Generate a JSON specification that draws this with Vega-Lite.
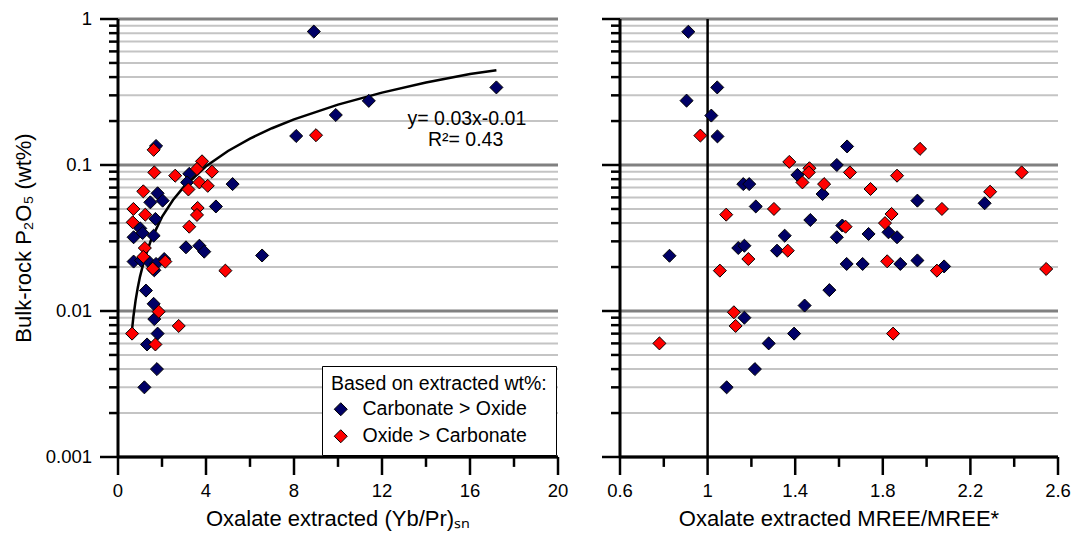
{
  "$schema": "https://vega.github.io/schema/vega-lite/v6.json",
  "background": "white",
  "autosize": {"type": "pad"},
  "padding": {"left": 12, "top": 10, "right": 0, "bottom": 5},
  "config": {
    "font": "Liberation Sans",
    "view": {"stroke": null},
    "axis": {"disable": true}
  },
  "datasets": {
    "ymaj": [{"v": 0.001}, {"v": 0.01}, {"v": 0.1}, {"v": 1}],
    "ymin": [{"v": 0.002}, {"v": 0.003}, {"v": 0.004}, {"v": 0.005}, {"v": 0.006}, {"v": 0.007}, {"v": 0.008}, {"v": 0.009},
             {"v": 0.02}, {"v": 0.03}, {"v": 0.04}, {"v": 0.05}, {"v": 0.06}, {"v": 0.07}, {"v": 0.08}, {"v": 0.09},
             {"v": 0.2}, {"v": 0.3}, {"v": 0.4}, {"v": 0.5}, {"v": 0.6}, {"v": 0.7}, {"v": 0.8}, {"v": 0.9}],
    "xmajL": [{"v": 0}, {"v": 4}, {"v": 8}, {"v": 12}, {"v": 16}, {"v": 20}],
    "xminL": [{"v": 2}, {"v": 6}, {"v": 10}, {"v": 14}, {"v": 18}],
    "xmajR": [{"v": 0.6}, {"v": 1.0}, {"v": 1.4}, {"v": 1.8}, {"v": 2.2}, {"v": 2.6}],
    "xminR": [{"v": 0.8}, {"v": 1.2}, {"v": 1.6}, {"v": 2.0}, {"v": 2.4}],
    "fit": [
      {"x": 0.64, "p": 0.0075}, {"x": 0.7, "p": 0.00913}, {"x": 0.8, "p": 0.01182}, {"x": 0.9, "p": 0.01451},
      {"x": 1.0, "p": 0.0172}, {"x": 1.2, "p": 0.02258}, {"x": 1.5, "p": 0.03065}, {"x": 2.0, "p": 0.0441},
      {"x": 2.5, "p": 0.05755}, {"x": 3, "p": 0.071}, {"x": 4, "p": 0.0979}, {"x": 5, "p": 0.1248},
      {"x": 6, "p": 0.1517}, {"x": 7, "p": 0.1786}, {"x": 8, "p": 0.2055}, {"x": 10, "p": 0.2593},
      {"x": 12, "p": 0.3131}, {"x": 14, "p": 0.3669}, {"x": 16, "p": 0.4207}, {"x": 17.2, "p": 0.445}
    ],
    "left": [
      {"x": 8.9, "p": 0.82, "g": "Carbonate > Oxide"},
      {"x": 17.2, "p": 0.34, "g": "Carbonate > Oxide"},
      {"x": 11.4, "p": 0.275, "g": "Carbonate > Oxide"},
      {"x": 9.9, "p": 0.22, "g": "Carbonate > Oxide"},
      {"x": 8.1, "p": 0.158, "g": "Carbonate > Oxide"},
      {"x": 1.73, "p": 0.135, "g": "Carbonate > Oxide"},
      {"x": 3.24, "p": 0.087, "g": "Carbonate > Oxide"},
      {"x": 3.14, "p": 0.076, "g": "Carbonate > Oxide"},
      {"x": 5.21, "p": 0.074, "g": "Carbonate > Oxide"},
      {"x": 1.8, "p": 0.064, "g": "Carbonate > Oxide"},
      {"x": 1.47, "p": 0.0555, "g": "Carbonate > Oxide"},
      {"x": 2.03, "p": 0.057, "g": "Carbonate > Oxide"},
      {"x": 4.45, "p": 0.052, "g": "Carbonate > Oxide"},
      {"x": 1.7, "p": 0.0427, "g": "Carbonate > Oxide"},
      {"x": 1.01, "p": 0.0368, "g": "Carbonate > Oxide"},
      {"x": 1.12, "p": 0.0342, "g": "Carbonate > Oxide"},
      {"x": 0.71, "p": 0.032, "g": "Carbonate > Oxide"},
      {"x": 1.62, "p": 0.0328, "g": "Carbonate > Oxide"},
      {"x": 3.09, "p": 0.0273, "g": "Carbonate > Oxide"},
      {"x": 3.7, "p": 0.028, "g": "Carbonate > Oxide"},
      {"x": 3.92, "p": 0.0255, "g": "Carbonate > Oxide"},
      {"x": 6.55, "p": 0.024, "g": "Carbonate > Oxide"},
      {"x": 0.71, "p": 0.0218, "g": "Carbonate > Oxide"},
      {"x": 1.05, "p": 0.0222, "g": "Carbonate > Oxide"},
      {"x": 1.42, "p": 0.0216, "g": "Carbonate > Oxide"},
      {"x": 2.1, "p": 0.0227, "g": "Carbonate > Oxide"},
      {"x": 1.73, "p": 0.021, "g": "Carbonate > Oxide"},
      {"x": 1.65, "p": 0.019, "g": "Carbonate > Oxide"},
      {"x": 1.27, "p": 0.0138, "g": "Carbonate > Oxide"},
      {"x": 1.62, "p": 0.0112, "g": "Carbonate > Oxide"},
      {"x": 1.65, "p": 0.0088, "g": "Carbonate > Oxide"},
      {"x": 1.8, "p": 0.007, "g": "Carbonate > Oxide"},
      {"x": 1.32, "p": 0.0059, "g": "Carbonate > Oxide"},
      {"x": 1.77, "p": 0.004, "g": "Carbonate > Oxide"},
      {"x": 1.2, "p": 0.003, "g": "Carbonate > Oxide"},
      {"x": 9.0, "p": 0.16, "g": "Oxide > Carbonate"},
      {"x": 1.62, "p": 0.127, "g": "Oxide > Carbonate"},
      {"x": 1.65, "p": 0.089, "g": "Oxide > Carbonate"},
      {"x": 2.6, "p": 0.0845, "g": "Oxide > Carbonate"},
      {"x": 3.82, "p": 0.106, "g": "Oxide > Carbonate"},
      {"x": 3.59, "p": 0.094, "g": "Oxide > Carbonate"},
      {"x": 3.7, "p": 0.076, "g": "Oxide > Carbonate"},
      {"x": 4.08, "p": 0.072, "g": "Oxide > Carbonate"},
      {"x": 4.27, "p": 0.09, "g": "Oxide > Carbonate"},
      {"x": 3.2, "p": 0.068, "g": "Oxide > Carbonate"},
      {"x": 1.15, "p": 0.066, "g": "Oxide > Carbonate"},
      {"x": 0.7, "p": 0.05, "g": "Oxide > Carbonate"},
      {"x": 1.24, "p": 0.0457, "g": "Oxide > Carbonate"},
      {"x": 3.62, "p": 0.0508, "g": "Oxide > Carbonate"},
      {"x": 3.59, "p": 0.0455, "g": "Oxide > Carbonate"},
      {"x": 0.67, "p": 0.0405, "g": "Oxide > Carbonate"},
      {"x": 3.24, "p": 0.0378, "g": "Oxide > Carbonate"},
      {"x": 1.22, "p": 0.027, "g": "Oxide > Carbonate"},
      {"x": 1.15, "p": 0.0235, "g": "Oxide > Carbonate"},
      {"x": 2.15, "p": 0.0218, "g": "Oxide > Carbonate"},
      {"x": 1.58, "p": 0.0195, "g": "Oxide > Carbonate"},
      {"x": 4.88, "p": 0.0189, "g": "Oxide > Carbonate"},
      {"x": 1.85, "p": 0.0099, "g": "Oxide > Carbonate"},
      {"x": 2.76, "p": 0.0079, "g": "Oxide > Carbonate"},
      {"x": 0.64, "p": 0.007, "g": "Oxide > Carbonate"},
      {"x": 1.7, "p": 0.0059, "g": "Oxide > Carbonate"}
    ],
    "right": [
      {"x": 0.912, "p": 0.818, "g": "Carbonate > Oxide"},
      {"x": 1.044, "p": 0.34, "g": "Carbonate > Oxide"},
      {"x": 0.904, "p": 0.276, "g": "Carbonate > Oxide"},
      {"x": 1.017, "p": 0.218, "g": "Carbonate > Oxide"},
      {"x": 1.045, "p": 0.157, "g": "Carbonate > Oxide"},
      {"x": 1.59, "p": 0.1, "g": "Carbonate > Oxide"},
      {"x": 1.41, "p": 0.0855, "g": "Carbonate > Oxide"},
      {"x": 1.525, "p": 0.0633, "g": "Carbonate > Oxide"},
      {"x": 1.163, "p": 0.074, "g": "Carbonate > Oxide"},
      {"x": 1.19, "p": 0.074, "g": "Carbonate > Oxide"},
      {"x": 1.22, "p": 0.052, "g": "Carbonate > Oxide"},
      {"x": 1.469, "p": 0.042, "g": "Carbonate > Oxide"},
      {"x": 1.352, "p": 0.0328, "g": "Carbonate > Oxide"},
      {"x": 1.59, "p": 0.032, "g": "Carbonate > Oxide"},
      {"x": 1.14, "p": 0.027, "g": "Carbonate > Oxide"},
      {"x": 1.168, "p": 0.028, "g": "Carbonate > Oxide"},
      {"x": 1.317, "p": 0.0259, "g": "Carbonate > Oxide"},
      {"x": 0.826, "p": 0.0239, "g": "Carbonate > Oxide"},
      {"x": 1.556, "p": 0.0139, "g": "Carbonate > Oxide"},
      {"x": 1.637, "p": 0.134, "g": "Carbonate > Oxide"},
      {"x": 1.958, "p": 0.057, "g": "Carbonate > Oxide"},
      {"x": 2.265, "p": 0.0547, "g": "Carbonate > Oxide"},
      {"x": 1.615, "p": 0.0385, "g": "Carbonate > Oxide"},
      {"x": 1.735, "p": 0.0337, "g": "Carbonate > Oxide"},
      {"x": 1.826, "p": 0.0346, "g": "Carbonate > Oxide"},
      {"x": 1.865, "p": 0.032, "g": "Carbonate > Oxide"},
      {"x": 1.635, "p": 0.021, "g": "Carbonate > Oxide"},
      {"x": 1.708, "p": 0.021, "g": "Carbonate > Oxide"},
      {"x": 1.88, "p": 0.021, "g": "Carbonate > Oxide"},
      {"x": 1.958, "p": 0.0222, "g": "Carbonate > Oxide"},
      {"x": 2.08, "p": 0.0202, "g": "Carbonate > Oxide"},
      {"x": 1.443, "p": 0.0109, "g": "Carbonate > Oxide"},
      {"x": 1.168, "p": 0.009, "g": "Carbonate > Oxide"},
      {"x": 1.395, "p": 0.007, "g": "Carbonate > Oxide"},
      {"x": 1.279, "p": 0.006, "g": "Carbonate > Oxide"},
      {"x": 1.216, "p": 0.004, "g": "Carbonate > Oxide"},
      {"x": 1.087, "p": 0.003, "g": "Carbonate > Oxide"},
      {"x": 0.967, "p": 0.159, "g": "Oxide > Carbonate"},
      {"x": 1.373, "p": 0.105, "g": "Oxide > Carbonate"},
      {"x": 1.465, "p": 0.095, "g": "Oxide > Carbonate"},
      {"x": 1.462, "p": 0.089, "g": "Oxide > Carbonate"},
      {"x": 1.433, "p": 0.076, "g": "Oxide > Carbonate"},
      {"x": 1.532, "p": 0.074, "g": "Oxide > Carbonate"},
      {"x": 1.303, "p": 0.05, "g": "Oxide > Carbonate"},
      {"x": 1.085, "p": 0.0457, "g": "Oxide > Carbonate"},
      {"x": 1.366, "p": 0.0259, "g": "Oxide > Carbonate"},
      {"x": 1.186, "p": 0.0227, "g": "Oxide > Carbonate"},
      {"x": 1.056, "p": 0.0189, "g": "Oxide > Carbonate"},
      {"x": 1.97, "p": 0.129, "g": "Oxide > Carbonate"},
      {"x": 1.65, "p": 0.089, "g": "Oxide > Carbonate"},
      {"x": 1.865, "p": 0.0845, "g": "Oxide > Carbonate"},
      {"x": 2.434, "p": 0.089, "g": "Oxide > Carbonate"},
      {"x": 1.744, "p": 0.0685, "g": "Oxide > Carbonate"},
      {"x": 2.29, "p": 0.0656, "g": "Oxide > Carbonate"},
      {"x": 2.07, "p": 0.05, "g": "Oxide > Carbonate"},
      {"x": 1.84, "p": 0.0462, "g": "Oxide > Carbonate"},
      {"x": 1.81, "p": 0.04, "g": "Oxide > Carbonate"},
      {"x": 1.63, "p": 0.0378, "g": "Oxide > Carbonate"},
      {"x": 1.82, "p": 0.0219, "g": "Oxide > Carbonate"},
      {"x": 2.047, "p": 0.0189, "g": "Oxide > Carbonate"},
      {"x": 2.546, "p": 0.0194, "g": "Oxide > Carbonate"},
      {"x": 0.78, "p": 0.006, "g": "Oxide > Carbonate"},
      {"x": 1.12, "p": 0.0098, "g": "Oxide > Carbonate"},
      {"x": 1.128, "p": 0.0079, "g": "Oxide > Carbonate"},
      {"x": 1.847, "p": 0.007, "g": "Oxide > Carbonate"}
    ]
  },
  "spacing": 28,
  "resolve": {"legend": {"color": "independent"}},
  "hconcat": [
    {
      "width": 440,
      "height": 438,
      "layer": [
        {
          "data": {"name": "ymin"},
          "mark": {"type": "rule", "color": "#c4c4c4", "strokeWidth": 2},
          "encoding": {
            "y": {"field": "v", "type": "quantitative", "scale": {"type": "log", "domain": [0.001, 1]}, "axis": null},
            "x": {"datum": 0, "type": "quantitative", "scale": {"domain": [0, 20]}, "axis": null},
            "x2": {"datum": 20}
          }
        },
        {
          "data": {"name": "ymaj"},
          "mark": {"type": "rule", "color": "#808080", "strokeWidth": 3},
          "encoding": {
            "y": {"field": "v", "type": "quantitative", "scale": {"type": "log", "domain": [0.001, 1]}, "axis": null},
            "x": {"datum": 0, "type": "quantitative", "scale": {"domain": [0, 20]}, "axis": null},
            "x2": {"datum": 20}
          }
        },
        {
          "data": {"name": "fit"},
          "mark": {"type": "line", "color": "black", "strokeWidth": 2.5},
          "encoding": {
            "x": {"field": "x", "type": "quantitative", "scale": {"domain": [0, 20]}, "axis": null},
            "y": {"field": "p", "type": "quantitative", "scale": {"type": "log", "domain": [0.001, 1]}, "axis": null}
          }
        },
        {
          "data": {"name": "left"},
          "mark": {"type": "point", "shape": "diamond", "filled": true, "size": 170, "stroke": "black", "strokeWidth": 1, "opacity": 1},
          "encoding": {
            "x": {"field": "x", "type": "quantitative", "scale": {"domain": [0, 20]}, "axis": null},
            "y": {"field": "p", "type": "quantitative", "scale": {"type": "log", "domain": [0.001, 1]}, "axis": null},
            "color": {"field": "g", "type": "nominal",
              "scale": {"domain": ["Carbonate > Oxide", "Oxide > Carbonate"], "range": ["#000066", "#ff0000"]},
              "legend": {
                "title": "Based on extracted wt%:",
                "orient": "bottom-right",
                "offset": 2,
                "fillColor": "white",
                "strokeColor": "black",
                "padding": 9,
                "titleFontSize": 19.5,
                "titleFontWeight": "normal",
                "titleColor": "black",
                "titleFont": "Liberation Sans",
                "titleLimit": 400,
                "labelLimit": 400,
                "labelFontSize": 19.5,
                "labelColor": "black",
                "labelFont": "Liberation Sans",
                "symbolType": "diamond",
                "symbolSize": 170,
                "symbolStrokeColor": "black",
                "symbolStrokeWidth": 1,
                "symbolOpacity": 1,
                "rowPadding": 6,
                "labelOffset": 12
              }}
          }
        },
        {
          "data": {"values": [{}]},
          "mark": {"type": "rule", "color": "black", "strokeWidth": 3},
          "encoding": {
            "x": {"datum": 0, "type": "quantitative", "scale": {"domain": [0, 20]}, "axis": null},
            "y": {"datum": 0.001, "type": "quantitative", "scale": {"type": "log", "domain": [0.001, 1]}, "axis": null},
            "y2": {"datum": 1}
          }
        },
        {
          "data": {"values": [{}]},
          "mark": {"type": "rule", "color": "black", "strokeWidth": 3},
          "encoding": {
            "x": {"datum": 0, "type": "quantitative", "scale": {"domain": [0, 20]}, "axis": null},
            "x2": {"datum": 20},
            "y": {"datum": 0.001, "type": "quantitative", "scale": {"type": "log", "domain": [0.001, 1]}, "axis": null}
          }
        },
        {
          "data": {"name": "ymaj"},
          "mark": {"type": "point", "shape": "M-2,0L0,0", "size": 324, "filled": false, "stroke": "black", "strokeWidth": 2.5, "opacity": 1},
          "encoding": {
            "y": {"field": "v", "type": "quantitative", "scale": {"type": "log", "domain": [0.001, 1]}, "axis": null},
            "x": {"datum": 0, "type": "quantitative", "scale": {"domain": [0, 20]}, "axis": null}
          }
        },
        {
          "data": {"name": "ymin"},
          "mark": {"type": "point", "shape": "M-1,0L0,0", "size": 324, "filled": false, "stroke": "black", "strokeWidth": 2.5, "opacity": 1},
          "encoding": {
            "y": {"field": "v", "type": "quantitative", "scale": {"type": "log", "domain": [0.001, 1]}, "axis": null},
            "x": {"datum": 0, "type": "quantitative", "scale": {"domain": [0, 20]}, "axis": null}
          }
        },
        {
          "data": {"name": "xmajL"},
          "mark": {"type": "point", "shape": "M0,0L0,2", "size": 324, "filled": false, "stroke": "black", "strokeWidth": 2.5, "opacity": 1},
          "encoding": {
            "x": {"field": "v", "type": "quantitative", "scale": {"domain": [0, 20]}, "axis": null},
            "y": {"datum": 0.001, "type": "quantitative", "scale": {"type": "log", "domain": [0.001, 1]}, "axis": null}
          }
        },
        {
          "data": {"name": "xminL"},
          "mark": {"type": "point", "shape": "M0,0L0,1.1", "size": 324, "filled": false, "stroke": "black", "strokeWidth": 2.5, "opacity": 1},
          "encoding": {
            "x": {"field": "v", "type": "quantitative", "scale": {"domain": [0, 20]}, "axis": null},
            "y": {"datum": 0.001, "type": "quantitative", "scale": {"type": "log", "domain": [0.001, 1]}, "axis": null}
          }
        },
        {
          "data": {"name": "ymaj"},
          "mark": {"type": "text", "fontSize": 18.5, "font": "Liberation Sans", "color": "black", "align": "right", "baseline": "middle", "dx": -26},
          "encoding": {
            "y": {"field": "v", "type": "quantitative", "scale": {"type": "log", "domain": [0.001, 1]}, "axis": null},
            "x": {"datum": 0, "type": "quantitative", "scale": {"domain": [0, 20]}, "axis": null},
            "text": {"field": "v", "type": "quantitative", "format": "~g"}
          }
        },
        {
          "data": {"name": "xmajL"},
          "mark": {"type": "text", "fontSize": 18.5, "font": "Liberation Sans", "color": "black", "align": "center", "baseline": "top", "dy": 25},
          "encoding": {
            "x": {"field": "v", "type": "quantitative", "scale": {"domain": [0, 20]}, "axis": null},
            "y": {"datum": 0.001, "type": "quantitative", "scale": {"type": "log", "domain": [0.001, 1]}, "axis": null},
            "text": {"field": "v", "type": "quantitative", "format": "~g"}
          }
        },
        {
          "data": {"values": [{}]},
          "mark": {"type": "text", "fontSize": 22, "font": "Liberation Sans", "color": "black", "align": "center", "baseline": "middle", "dy": 62},
          "encoding": {
            "x": {"datum": 10, "type": "quantitative", "scale": {"domain": [0, 20]}, "axis": null},
            "y": {"datum": 0.001, "type": "quantitative", "scale": {"type": "log", "domain": [0.001, 1]}, "axis": null},
            "text": {"value": "Oxalate extracted (Yb/Pr)ₛₙ"}
          }
        },
        {
          "data": {"values": [{}]},
          "mark": {"type": "text", "fontSize": 22, "font": "Liberation Sans", "color": "black", "align": "center", "baseline": "middle", "angle": 270, "dy": -94},
          "encoding": {
            "x": {"datum": 0, "type": "quantitative", "scale": {"domain": [0, 20]}, "axis": null},
            "y": {"datum": 0.031623, "type": "quantitative", "scale": {"type": "log", "domain": [0.001, 1]}, "axis": null},
            "text": {"value": "Bulk-rock P₂O₅ (wt%)"}
          }
        },
        {
          "data": {"values": [{}]},
          "mark": {"type": "text", "fontSize": 19.5, "font": "Liberation Sans", "color": "black", "align": "center", "baseline": "middle"},
          "encoding": {
            "x": {"datum": 15.86, "type": "quantitative", "scale": {"domain": [0, 20]}, "axis": null},
            "y": {"datum": 0.206, "type": "quantitative", "scale": {"type": "log", "domain": [0.001, 1]}, "axis": null},
            "text": {"value": "y= 0.03x-0.01"}
          }
        },
        {
          "data": {"values": [{}]},
          "mark": {"type": "text", "fontSize": 19.5, "font": "Liberation Sans", "color": "black", "align": "center", "baseline": "middle"},
          "encoding": {
            "x": {"datum": 15.8, "type": "quantitative", "scale": {"domain": [0, 20]}, "axis": null},
            "y": {"datum": 0.148, "type": "quantitative", "scale": {"type": "log", "domain": [0.001, 1]}, "axis": null},
            "text": {"value": "R²= 0.43"}
          }
        }
      ]
    },
    {
      "width": 438,
      "height": 438,
      "layer": [
        {
          "data": {"name": "ymin"},
          "mark": {"type": "rule", "color": "#c4c4c4", "strokeWidth": 2},
          "encoding": {
            "y": {"field": "v", "type": "quantitative", "scale": {"type": "log", "domain": [0.001, 1]}, "axis": null},
            "x": {"datum": 0.6, "type": "quantitative", "scale": {"domain": [0.6, 2.6]}, "axis": null},
            "x2": {"datum": 2.6}
          }
        },
        {
          "data": {"name": "ymaj"},
          "mark": {"type": "rule", "color": "#808080", "strokeWidth": 3},
          "encoding": {
            "y": {"field": "v", "type": "quantitative", "scale": {"type": "log", "domain": [0.001, 1]}, "axis": null},
            "x": {"datum": 0.6, "type": "quantitative", "scale": {"domain": [0.6, 2.6]}, "axis": null},
            "x2": {"datum": 2.6}
          }
        },
        {
          "data": {"values": [{}]},
          "mark": {"type": "rule", "color": "black", "strokeWidth": 2.5},
          "encoding": {
            "x": {"datum": 1, "type": "quantitative", "scale": {"domain": [0.6, 2.6]}, "axis": null},
            "y": {"datum": 0.001, "type": "quantitative", "scale": {"type": "log", "domain": [0.001, 1]}, "axis": null},
            "y2": {"datum": 1}
          }
        },
        {
          "data": {"name": "right"},
          "mark": {"type": "point", "shape": "diamond", "filled": true, "size": 170, "stroke": "black", "strokeWidth": 1, "opacity": 1},
          "encoding": {
            "x": {"field": "x", "type": "quantitative", "scale": {"domain": [0.6, 2.6]}, "axis": null},
            "y": {"field": "p", "type": "quantitative", "scale": {"type": "log", "domain": [0.001, 1]}, "axis": null},
            "color": {"field": "g", "type": "nominal",
              "scale": {"domain": ["Carbonate > Oxide", "Oxide > Carbonate"], "range": ["#000066", "#ff0000"]},
              "legend": null}
          }
        },
        {
          "data": {"values": [{}]},
          "mark": {"type": "rule", "color": "black", "strokeWidth": 3},
          "encoding": {
            "x": {"datum": 0.6, "type": "quantitative", "scale": {"domain": [0.6, 2.6]}, "axis": null},
            "y": {"datum": 0.001, "type": "quantitative", "scale": {"type": "log", "domain": [0.001, 1]}, "axis": null},
            "y2": {"datum": 1}
          }
        },
        {
          "data": {"values": [{}]},
          "mark": {"type": "rule", "color": "black", "strokeWidth": 3},
          "encoding": {
            "x": {"datum": 0.6, "type": "quantitative", "scale": {"domain": [0.6, 2.6]}, "axis": null},
            "x2": {"datum": 2.6},
            "y": {"datum": 0.001, "type": "quantitative", "scale": {"type": "log", "domain": [0.001, 1]}, "axis": null}
          }
        },
        {
          "data": {"name": "ymaj"},
          "mark": {"type": "point", "shape": "M-2,0L0,0", "size": 324, "filled": false, "stroke": "black", "strokeWidth": 2.5, "opacity": 1},
          "encoding": {
            "y": {"field": "v", "type": "quantitative", "scale": {"type": "log", "domain": [0.001, 1]}, "axis": null},
            "x": {"datum": 0.6, "type": "quantitative", "scale": {"domain": [0.6, 2.6]}, "axis": null}
          }
        },
        {
          "data": {"name": "ymin"},
          "mark": {"type": "point", "shape": "M-1,0L0,0", "size": 324, "filled": false, "stroke": "black", "strokeWidth": 2.5, "opacity": 1},
          "encoding": {
            "y": {"field": "v", "type": "quantitative", "scale": {"type": "log", "domain": [0.001, 1]}, "axis": null},
            "x": {"datum": 0.6, "type": "quantitative", "scale": {"domain": [0.6, 2.6]}, "axis": null}
          }
        },
        {
          "data": {"name": "xmajR"},
          "mark": {"type": "point", "shape": "M0,0L0,2", "size": 324, "filled": false, "stroke": "black", "strokeWidth": 2.5, "opacity": 1},
          "encoding": {
            "x": {"field": "v", "type": "quantitative", "scale": {"domain": [0.6, 2.6]}, "axis": null},
            "y": {"datum": 0.001, "type": "quantitative", "scale": {"type": "log", "domain": [0.001, 1]}, "axis": null}
          }
        },
        {
          "data": {"name": "xminR"},
          "mark": {"type": "point", "shape": "M0,0L0,1.1", "size": 324, "filled": false, "stroke": "black", "strokeWidth": 2.5, "opacity": 1},
          "encoding": {
            "x": {"field": "v", "type": "quantitative", "scale": {"domain": [0.6, 2.6]}, "axis": null},
            "y": {"datum": 0.001, "type": "quantitative", "scale": {"type": "log", "domain": [0.001, 1]}, "axis": null}
          }
        },
        {
          "data": {"name": "xmajR"},
          "mark": {"type": "text", "fontSize": 18.5, "font": "Liberation Sans", "color": "black", "align": "center", "baseline": "top", "dy": 25},
          "encoding": {
            "x": {"field": "v", "type": "quantitative", "scale": {"domain": [0.6, 2.6]}, "axis": null},
            "y": {"datum": 0.001, "type": "quantitative", "scale": {"type": "log", "domain": [0.001, 1]}, "axis": null},
            "text": {"field": "v", "type": "quantitative", "format": "~g"}
          }
        },
        {
          "data": {"values": [{}]},
          "mark": {"type": "text", "fontSize": 22, "font": "Liberation Sans", "color": "black", "align": "center", "baseline": "middle", "dy": 62},
          "encoding": {
            "x": {"datum": 1.6, "type": "quantitative", "scale": {"domain": [0.6, 2.6]}, "axis": null},
            "y": {"datum": 0.001, "type": "quantitative", "scale": {"type": "log", "domain": [0.001, 1]}, "axis": null},
            "text": {"value": "Oxalate extracted MREE/MREE*"}
          }
        }
      ]
    }
  ]
}
